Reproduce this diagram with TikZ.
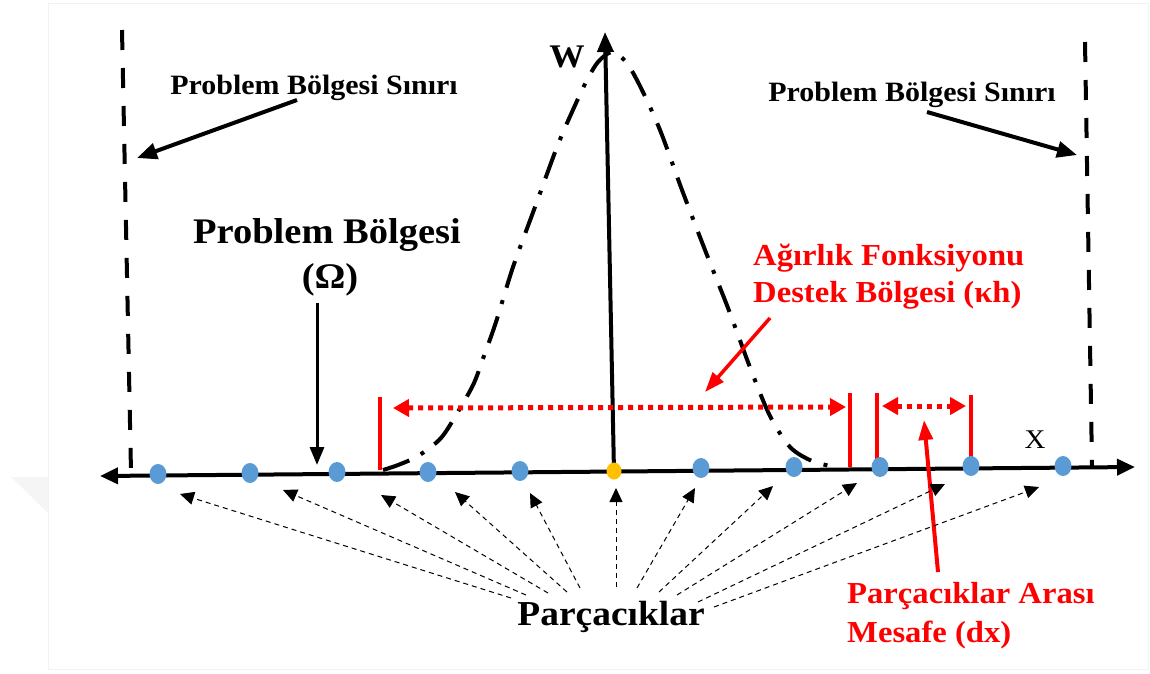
\documentclass[tikz,border=0pt]{standalone}
\usepackage{fontspec}
\setmainfont{Liberation Serif}[FakeStretch=1.07]
\usetikzlibrary{arrows.meta,shapes.geometric}
\definecolor{pblue}{HTML}{5B9BD5}
\definecolor{pyellow}{HTML}{FFC000}
\definecolor{ared}{HTML}{FF0000}
\definecolor{fangray}{HTML}{6E6E6E}
\begin{document}
\begin{tikzpicture}[x=1pt,y=-1pt,
  bndlbl/.style={font=\bfseries\fontsize{28}{30}\selectfont, inner sep=0pt, anchor=base},
  biglbl/.style={font=\bfseries\fontsize{36}{38}\selectfont, inner sep=0pt, anchor=base},
  redlbl/.style={font=\bfseries\fontsize{30.5}{32}\selectfont, text=ared, inner sep=0pt, anchor=base west},
  particle/.style={ellipse, fill=pblue, minimum width=17pt, minimum height=20pt, inner sep=0pt},
  bndline/.style={line width=4pt, dash pattern=on 20pt off 18pt},
  curveline/.style={line width=4pt, dash pattern=on 28pt off 13pt on 4pt off 13pt},
  blkarrow/.style={line width=4pt, -{Triangle[length=20pt,width=16pt]}},
  axisarrow/.style={line width=4pt, {Triangle[length=18pt,width=16pt]}-{Triangle[length=18pt,width=16pt]}},
  redarrow/.style={draw=ared, line width=3.5pt, -{Triangle[length=20pt,width=14pt]}, ared},
  redbar/.style={draw=ared, line width=4pt},
  reddots/.style={draw=ared, line width=5pt, dash pattern=on 5pt off 5pt,
     {Triangle[length=16pt,width=17pt]}-{Triangle[length=16pt,width=17pt]}, ared},
  fan/.style={draw=fangray, line width=1pt, dash pattern=on 5pt off 4pt,
     -{Triangle[length=14pt,width=13pt,fill=black]}, black}
]
\useasboundingbox (0,0) rectangle (1150,673);
% faint page frame and watermark corner
\draw[gray!10, line width=1pt] (48,3) rectangle (1148,669);
\fill[gray!8] (11,477) -- (48,477) -- (48,513) -- cycle;

% boundaries
\coordinate (bLt) at (122,30);
\coordinate (bLb) at (131,472);
\coordinate (bRt) at (1085,42);
\coordinate (bRb) at (1092,466);
\draw[bndline] (bLt) -- (bLb);
\draw[bndline] (bRt) -- (bRb);

% weight function curve
\draw[curveline] plot[smooth] coordinates {(383,470) (398,465) (418,456) (441,438) (459,410) (474,383) (485,353) (496,322) (513,267) (535,207) (557,147) (572,112) (586,82) (598,62) (612,52) (626,62) (640,86) (660,130) (682,190) (705,250) (728,308) (751,370) (770,416) (790,447) (812,461) (835,467)};

% x axis
\coordinate (axL) at (100,476);
\coordinate (axR) at (1135,467);
\draw[axisarrow] (axL) -- (axR);

% W axis
\coordinate (wbase) at (614,472);
\coordinate (wtop) at (605,32);
\draw[line width=4pt, -{Triangle[length=20pt,width=16pt]}] (wbase) -- (wtop);

% red bars
\coordinate (r1a) at (380,397); \coordinate (r1b) at (380,470);
\coordinate (r2a) at (850,393); \coordinate (r2b) at (850,467);
\coordinate (r3a) at (877,393); \coordinate (r3b) at (877,467);
\coordinate (r4a) at (971,395); \coordinate (r4b) at (971,466);
\draw[redbar] (r1a) -- (r1b);
\draw[redbar] (r2a) -- (r2b);
\draw[redbar] (r3a) -- (r3b);
\draw[redbar] (r4a) -- (r4b);

% red dotted double arrows
\coordinate (kL) at (393,408);
\coordinate (kR) at (846,407);
\coordinate (dL) at (882,406);
\coordinate (dR) at (966,406);
\draw[reddots] (kL) -- (kR);
\draw[reddots] (dL) -- (dR);

% particles
\node[particle] (p1) at (158,474) {};
\node[particle] (p2) at (250,473) {};
\node[particle] (p3) at (337,472) {};
\node[particle] (p4) at (428,472) {};
\node[particle] (p5) at (520,471) {};
\node[particle, fill=pyellow, minimum width=15pt, minimum height=17pt] (p0) at (614,471) {};
\node[particle] (p6) at (701,468) {};
\node[particle] (p7) at (794,467) {};
\node[particle] (p8) at (880,467) {};
\node[particle] (p9) at (971,466) {};
\node[particle] (p10) at (1063,466) {};

% labels
\node[bndlbl] (bndL) at (314,94) {Problem Bölgesi Sınırı};
\node[bndlbl] (bndR) at (912,101) {Problem Bölgesi Sınırı};
\node[biglbl] (reg) at (327,243) {Problem Bölgesi};
\node[biglbl] (om) at (330,288) {(Ω)};
\node[font=\bfseries\fontsize{33}{35}\selectfont, inner sep=0pt, anchor=base] (W) at (567,67) {W};
\node[font=\fontsize{27}{29}\selectfont, inner sep=0pt, anchor=base] (X) at (1035,448) {X};
\node[redlbl] (kh1) at (753,265) {Ağırlık Fonksiyonu};
\node[redlbl] (kh2) at (753,302) {Destek Bölgesi (κh)};
\node[redlbl] (dx1) at (847,603) {Parçacıklar Arası};
\node[redlbl] (dx2) at (847,642) {Mesafe (dx)};
\node[font=\bfseries\fontsize{35}{37}\selectfont, inner sep=0pt, anchor=base] (parts) at (611,625) {Parçacıklar};

% black label arrows
\coordinate (aLs) at (297,100); \coordinate (aLt) at (137,158);
\coordinate (aRs) at (927,112); \coordinate (aRt) at (1077,155);
\draw[blkarrow] (aLs) -- (aLt);
\draw[blkarrow] (aRs) -- (aRt);
\coordinate (oms) at (317,303); \coordinate (omt) at (317,465);
\draw[line width=3pt, -{Triangle[length=18pt,width=14pt]}] (oms) -- (omt);

% red label arrows
\coordinate (khs) at (770,318); \coordinate (kht) at (705,392);
\draw[redarrow] (khs) -- (kht);
\coordinate (dxs) at (938,572); \coordinate (dxt) at (924,420);
\draw[redarrow, line width=4pt] (dxs) -- (dxt);

% fan of particle pointers
\coordinate (s1) at (511,598); \coordinate (t1) at (180,494);
\coordinate (s2) at (526,595); \coordinate (t2) at (283,490);
\coordinate (s3) at (548,593); \coordinate (t3) at (381,495);
\coordinate (s4) at (567,592); \coordinate (t4) at (455,492);
\coordinate (s5) at (580,588); \coordinate (t5) at (530,493);
\coordinate (s6) at (616,587); \coordinate (t6) at (616,488);
\coordinate (s7) at (637,588); \coordinate (t7) at (695,488);
\coordinate (s8) at (659,592); \coordinate (t8) at (773,486);
\coordinate (s9) at (677,595); \coordinate (t9) at (857,483);
\coordinate (s10) at (698,602); \coordinate (t10) at (945,484);
\coordinate (s11) at (714,607); \coordinate (t11) at (1039,487);
\foreach \i in {1,...,11} {\draw[fan] (s\i) -- (t\i);}
\end{tikzpicture}
\end{document}
